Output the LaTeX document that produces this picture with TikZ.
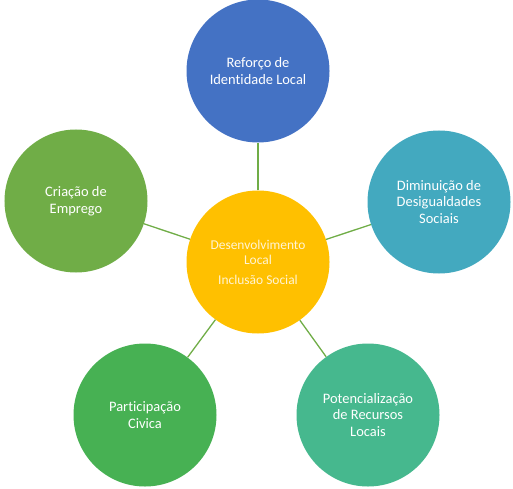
\documentclass[tikz,border=0pt]{standalone}
\usepackage{fontspec}
\setmainfont[Ligatures=NoCommon]{Carlito}
\definecolor{cblue}{HTML}{4472C4}
\definecolor{caqua}{HTML}{43A9BF}
\definecolor{cgold}{HTML}{FFC000}
\definecolor{cgreen}{HTML}{70AD47}
\definecolor{cgreen2}{HTML}{47B153}
\definecolor{cteal}{HTML}{46B88E}
\definecolor{clink}{HTML}{70AD47}
\definecolor{ctxt}{HTML}{FFF4D4}
\begin{document}
\begin{tikzpicture}[x=1bp,y=-1bp,
  bubble/.style={circle,draw=none,minimum size=143bp,inner sep=0pt,align=center,text=white,font=\fontsize{14.5}{17}\selectfont},
  link/.style={draw=clink,line width=1.3bp}]
\useasboundingbox (0,0) rectangle (513,489);
\node[bubble,fill=cgold,text=ctxt,font=\fontsize{13.5}{15}\selectfont] (c) at (258,262) {Desenvolvimento\\Local\\[5bp]Inclusão Social};
\node[bubble,fill=cblue] (t) at (258,71) {Reforço de\\Identidade Local};
\node[bubble,fill=caqua] (r) at (439,202) {Diminuição de\\Desigualdades\\Sociais};
\node[bubble,fill=cgreen] (l) at (76,201) {Criação de\\Emprego};
\node[bubble,fill=cgreen2] (bl) at (145,415) {Participação\\Civica};
\node[bubble,fill=cteal] (br) at (368,415) {Potencialização\\de Recursos\\Locais};
\draw[link] (c) -- (t);
\draw[link] (c) -- (r);
\draw[link] (c) -- (l);
\draw[link] (c) -- (bl);
\draw[link] (c) -- (br);
\end{tikzpicture}
\end{document}
